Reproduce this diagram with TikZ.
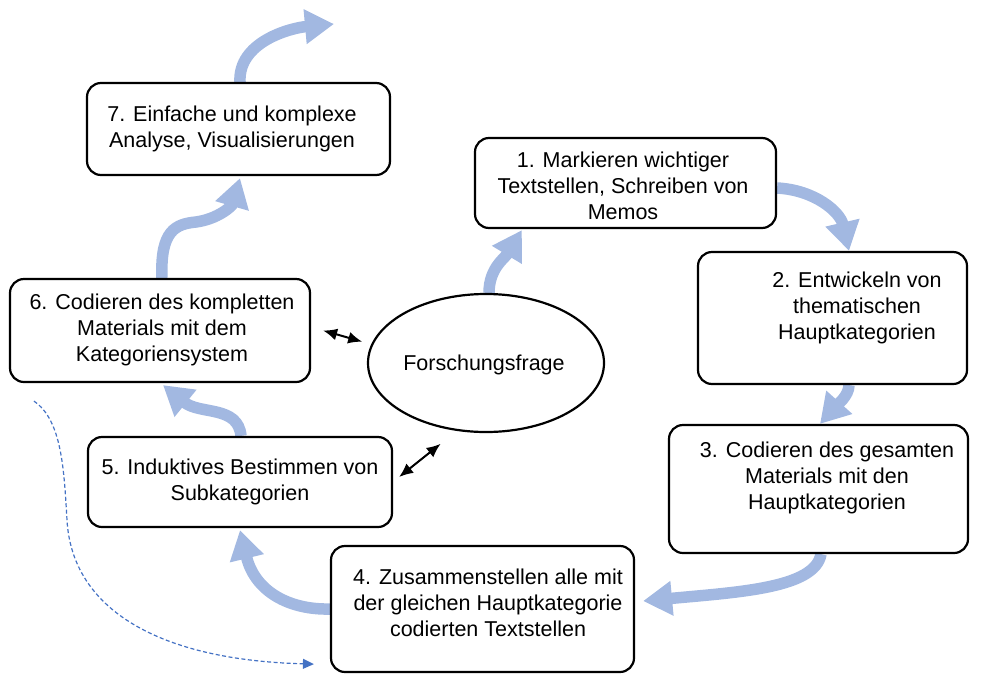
\documentclass[tikz,border=0pt]{standalone}
\usepackage{fontspec}
\setmainfont{Liberation Sans}
\usetikzlibrary{arrows.meta,shapes.geometric,backgrounds}
\definecolor{flowblue}{RGB}{162,184,225}
\definecolor{dashblue}{RGB}{68,114,196}
\tikzset{
  stepbox/.style={draw=black, line width=2.2pt, rounded corners=14pt, fill=white,
    inner sep=0pt},
  steptext/.style={align=center, inner sep=0pt,
    font=\fontsize{21.5}{26}\selectfont},
  flow/.style={draw=flowblue, line width=11.5pt,
    -{Triangle[width=33pt,length=29pt]}},
  link/.style={draw=black, line width=2pt,
    {Latex[length=14pt,width=12pt]}-{Latex[length=14pt,width=12pt]}},
  backlink/.style={draw=dashblue, line width=1.2pt, dash pattern=on 4pt off 2.5pt,
    -{Triangle[length=11pt,width=10pt]}}
}
\begin{document}
\begin{tikzpicture}[x=1pt,y=-1pt]
\useasboundingbox (0,0) rectangle (990,675);

% process steps
\node[stepbox, minimum width=303pt, minimum height=92pt]  (b7) at (238.5,129) {};
\node[stepbox, minimum width=301pt, minimum height=90pt]  (b1) at (625.5,183) {};
\node[stepbox, minimum width=269pt, minimum height=132pt] (b2) at (832.5,318) {};
\node[stepbox, minimum width=299pt, minimum height=128pt] (b3) at (818.5,489) {};
\node[stepbox, minimum width=303pt, minimum height=126pt] (b4) at (482.5,609) {};
\node[stepbox, minimum width=304pt, minimum height=90pt]  (b5) at (240,482) {};
\node[stepbox, minimum width=300pt, minimum height=103pt] (b6) at (160,330.5) {};

% central research question
\node[draw=black, line width=2.2pt, ellipse, fill=white, minimum width=236pt,
  minimum height=138pt, inner sep=0pt] (ell) at (486,363) {};
\node[steptext] (q) at (484,365) {Forschungsfrage};

% step labels
\node[steptext] (t7) at (232,129) {7. Einfache und komplexe\\Analyse, Visualisierungen};
\node[steptext] (t1) at (623,186) {1. Markieren wichtiger\\Textstellen, Schreiben von\\Memos};
\node[steptext] (t2) at (857,308) {2. Entwickeln von\\thematischen\\Hauptkategorien};
\node[steptext] (t3) at (827,478) {3. Codieren des gesamten\\Materials mit den\\Hauptkategorien};
\node[steptext] (t4) at (488,603) {4. Zusammenstellen alle mit\\der gleichen Hauptkategorie\\codierten Textstellen};
\node[steptext] (t5) at (240,482) {5. Induktives Bestimmen von\\Subkategorien};
\node[steptext] (t6) at (162,330) {6. Codieren des kompletten\\Materials mit dem\\Kategoriensystem};

\coordinate (out) at (334,24);

\begin{scope}[on background layer]
  % cycle of steps
  \draw[flow] ([xshift=3pt]ell.north) .. controls (489,268) and (505,258) .. ([xshift=48pt,yshift=-1pt]b1.south west);
  \draw[flow] ([yshift=-5pt]b1.east) .. controls (815,190) and (840,212) .. ([xshift=16.5pt]b2.north);
  \draw[flow] ([xshift=16.5pt]b2.south) .. controls (849,396) and (836,406) .. ([xshift=1.5pt]b3.north);
  \draw[flow] ([xshift=2.5pt]b3.south) .. controls (815,588) and (740,592) .. ([xshift=8pt,yshift=8pt]b4.east);
  \draw[flow] (b4.west) .. controls (290,610) and (255,592) .. ([yshift=-2pt]b5.south);
  \draw[flow] ([xshift=1pt]b5.north) .. controls (238,405) and (200,415) .. ([xshift=3pt,yshift=-2pt]b6.south);
  \draw[flow] ([xshift=2pt]b6.north) .. controls (160,230) and (176,224) .. (196,222)
    .. controls (218,219) and (232,206) .. ([xshift=1.5pt,yshift=-2pt]b7.south);
  \draw[flow] ([xshift=1.5pt]b7.north) .. controls (238,42) and (290,28) .. (out);
\end{scope}

% links to the research question
\draw[link] ([xshift=12pt]b6.east) -- ([shift={(-6pt,11pt)}]ell.175);
\draw[link] ([xshift=6pt,yshift=5pt]b5.east) -- ([yshift=-16pt]ell.235);

% return path from step 6 to step 4
\draw[backlink] ([xshift=25pt,yshift=-18pt]b6.south west)
  .. controls (62,420) and (64,470) .. (67,520)
  .. controls (72,610) and (160,660) .. ([shift={(-16pt,9pt)}]b4.south west);
\end{tikzpicture}
\end{document}
